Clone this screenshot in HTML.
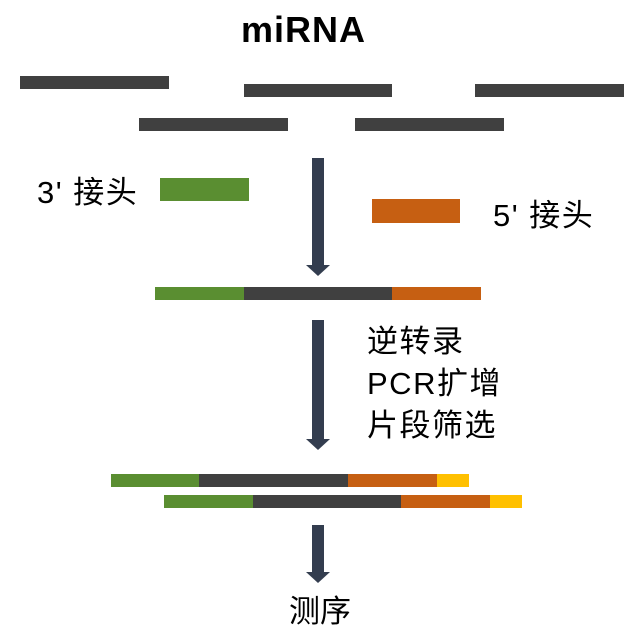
<!DOCTYPE html><html><head><style>
body{margin:0;width:625px;height:640px;background:#fff;position:relative;overflow:hidden;font-family:"Liberation Sans","Noto Sans CJK SC",sans-serif;}
.b{position:absolute;height:13px}
.d{background:#404040}.g{background:#5a8e31}.o{background:#c65f12}.y{background:#ffc000}
.t{position:absolute;font-size:31px;color:#000;white-space:nowrap;line-height:1;letter-spacing:1.5px}
</style></head><body>
<div class="t" style="left:241px;top:12px;font-weight:bold;font-size:36px;letter-spacing:1px">miRNA</div>
<div class="b d" style="left:20px;top:76px;width:149px"></div>
<div class="b d" style="left:244px;top:84px;width:148px"></div>
<div class="b d" style="left:475px;top:84px;width:149px"></div>
<div class="b d" style="left:139px;top:118px;width:149px"></div>
<div class="b d" style="left:355px;top:118px;width:149px"></div>
<div class="t" style="left:37px;top:177px">3' 接头</div>
<div class="b g" style="left:160px;top:178px;width:89px;height:23px"></div>
<div class="b o" style="left:372px;top:199px;width:88px;height:24px"></div>
<div class="t" style="left:493px;top:200px">5' 接头</div>
<svg width="625" height="640" style="position:absolute;left:0;top:0">
<g fill="#333d4f">
<rect x="312" y="158" width="12" height="108"/><polygon points="306,265 330,265 318,276"/>
<rect x="312" y="320" width="12" height="120"/><polygon points="306,439 330,439 318,450"/>
<rect x="312" y="525" width="12" height="48"/><polygon points="306,572 330,572 318,583"/>
</g></svg>
<div class="b g" style="left:155px;top:287px;width:89px"></div>
<div class="b d" style="left:244px;top:287px;width:148px"></div>
<div class="b o" style="left:392px;top:287px;width:89px"></div>
<div class="t" style="left:367px;top:321px;line-height:42px">逆转录<br>PCR扩增<br>片段筛选</div>
<div class="b g" style="left:111px;top:474px;width:88px"></div>
<div class="b d" style="left:199px;top:474px;width:149px"></div>
<div class="b o" style="left:348px;top:474px;width:89px"></div>
<div class="b y" style="left:437px;top:474px;width:32px"></div>
<div class="b g" style="left:164px;top:495px;width:89px"></div>
<div class="b d" style="left:253px;top:495px;width:148px"></div>
<div class="b o" style="left:401px;top:495px;width:89px"></div>
<div class="b y" style="left:490px;top:495px;width:32px"></div>
<div class="t" style="left:289px;top:596px;letter-spacing:0">测序</div>
</body></html>
